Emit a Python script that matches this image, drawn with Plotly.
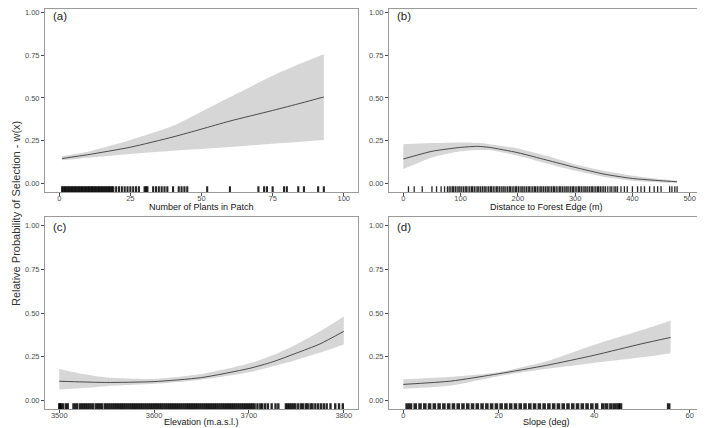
import plotly.graph_objects as go

# ---------------- data ----------------
# (a) Number of plants in patch
xa = [1, 10, 25, 40, 50, 60, 75, 85, 93]
mean_a = [0.146, 0.168, 0.212, 0.272, 0.318, 0.365, 0.427, 0.470, 0.506]
hi_a = [0.160, 0.185, 0.254, 0.337, 0.420, 0.505, 0.630, 0.703, 0.756]
lo_a = [0.135, 0.150, 0.173, 0.192, 0.202, 0.213, 0.232, 0.244, 0.254]
rug_a = [1, 1.5, 2, 2.5, 3, 3.5, 4, 4.5, 5, 5.5, 6, 6.5, 7, 7.5, 8, 8.5, 9, 9.5,
         10, 10.5, 11, 11.5, 12, 12.5, 13, 13.5, 14, 14.5, 15, 15.5, 16, 16.5,
         17, 17.5, 18, 18.5, 19, 20, 21, 22, 23, 24, 25, 26, 27, 28, 30, 30.5,
         31, 33, 34, 35, 36, 37, 38, 40, 42, 43, 44, 45, 52, 60, 70, 72, 73, 75,
         79, 80, 84, 86, 91, 93]

# (b) Distance to forest edge
xb = [0, 50, 100, 130, 150, 200, 250, 300, 350, 400, 450, 478]
mean_b = [0.143, 0.188, 0.211, 0.217, 0.211, 0.180, 0.137, 0.094, 0.055, 0.029, 0.016, 0.010]
hi_b = [0.230, 0.236, 0.240, 0.238, 0.230, 0.205, 0.162, 0.113, 0.074, 0.045, 0.025, 0.016]
lo_b = [0.084, 0.152, 0.188, 0.196, 0.195, 0.162, 0.117, 0.074, 0.039, 0.016, 0.006, 0.004]
rug_b = [9, 19, 33, 50, 58, 66, 72, 77, 80, 83, 86, 88, 91, 94, 97, 99, 102, 105,
         108, 110, 113, 116, 119, 121, 124, 127, 130, 132, 135, 138, 141, 143, 146,
         149, 152, 154, 157, 160, 163, 165, 168, 171, 174, 176, 179, 182, 185, 187,
         190, 193, 196, 198, 201, 204, 207, 209, 212, 215, 218, 220, 223, 226, 229,
         231, 234, 237, 240, 242, 245, 248, 251, 253, 256, 259, 262, 264, 267, 270,
         273, 275, 278, 281, 284, 286, 289, 292, 295, 297, 300, 303, 306, 308, 311,
         314, 317, 319, 322, 325, 328, 330, 333, 336, 339, 341, 344, 347, 350, 353,
         357, 361, 364, 368, 371, 374, 380, 386, 391, 400, 409, 415, 421, 430, 438,
         444, 450, 465, 469, 474, 478]

# (c) Elevation
xc = [3500, 3525, 3550, 3600, 3650, 3700, 3725, 3750, 3775, 3800]
mean_c = [0.109, 0.105, 0.102, 0.107, 0.130, 0.182, 0.220, 0.270, 0.323, 0.395]
hi_c = [0.179, 0.150, 0.130, 0.122, 0.150, 0.210, 0.258, 0.320, 0.395, 0.480]
lo_c = [0.062, 0.071, 0.081, 0.094, 0.118, 0.160, 0.195, 0.231, 0.273, 0.320]
rug_c = [3500, 3501, 3502, 3504, 3507, 3509, 3515, 3517, 3519, 3522, 3524, 3526,
         3528, 3530, 3532, 3534, 3536, 3539, 3541, 3543, 3545, 3548, 3550, 3552,
         3554, 3556, 3558, 3560, 3562, 3564, 3566, 3568, 3570, 3572, 3574, 3576,
         3578, 3580, 3582, 3584, 3586, 3588, 3590, 3592, 3594, 3596, 3598, 3600,
         3602, 3604, 3606, 3608, 3610, 3612, 3614, 3616, 3618, 3620, 3622, 3624,
         3626, 3628, 3630, 3632, 3634, 3636, 3638, 3640, 3642, 3644, 3646, 3648,
         3650, 3652, 3654, 3656, 3658, 3660, 3662, 3664, 3666, 3668, 3670, 3672,
         3674, 3676, 3678, 3680, 3682, 3684, 3686, 3688, 3690, 3692, 3694, 3696,
         3698, 3700, 3702, 3704, 3706, 3709, 3712, 3714, 3717, 3720, 3724, 3728,
         3731, 3739, 3741, 3743, 3745, 3747, 3749, 3752, 3755, 3757, 3760, 3762,
         3765, 3767, 3770, 3773, 3776, 3779, 3782, 3786, 3791, 3795, 3799]

# (d) Slope
xd = [0, 10, 20, 30, 40, 50, 56]
mean_d = [0.091, 0.110, 0.152, 0.200, 0.258, 0.324, 0.360]
hi_d = [0.120, 0.135, 0.161, 0.223, 0.318, 0.403, 0.456]
lo_d = [0.066, 0.085, 0.138, 0.180, 0.214, 0.246, 0.270]
rug_d = [0.8, 1.5, 2.5, 3.5, 4.5, 5.5, 6.5, 7.5, 8.5, 9.5, 10.5, 11.5, 12.5, 13.5,
         14.5, 15.5, 16.5, 17.5, 18.5, 19.5, 20.5, 21.5, 22.5, 23.5, 24.5, 25.5,
         26.5, 27.5, 28.5, 29.5, 30.5, 31.5, 32.5, 33.5, 34.5, 35.5, 36.5, 37.5,
         38.5, 39.5, 40.5, 41.8, 42.6, 43.5, 44.3, 45.0, 45.5, 55.6]

y_ticks = [0, 0.25, 0.5, 0.75, 1.0]
y_ticktext = ["0.00", "0.25", "0.50", "0.75", "1.00"]

# The page places the figure 8 px from the top-left corner (body margin),
# so the figure is 697 x 420 and every position below is relative to it.
W, H = 697, 420
TOP_DOM = [1 - 184 / H, 1 - 0.5 / H]
BOT_DOM = [1 - 401 / H, 1 - 209 / H]
LEFT_DOM = [37 / W, 350 / W]
RIGHT_DOM = [381 / W, 696 / W]

panels = [
    dict(x=xa, m=mean_a, hi=hi_a, lo=lo_a, rug=rug_a, rw=2.1, xr=[-5, 105],
         xt=[0, 25, 50, 75, 100], title="Number of Plants in Patch", label="(a)",
         dx=LEFT_DOM, dy=TOP_DOM, yr=[-0.05, 1.0234], ty=1 - 198.5 / H),
    dict(x=xb, m=mean_b, hi=hi_b, lo=lo_b, rug=rug_b, rw=1.3, xr=[-25, 525],
         xt=[0, 100, 200, 300, 400, 500], title="Distance to Forest Edge (m)", label="(b)",
         dx=RIGHT_DOM, dy=TOP_DOM, yr=[-0.05, 1.0234], ty=1 - 198.5 / H),
    dict(x=xc, m=mean_c, hi=hi_c, lo=lo_c, rug=rug_c, rw=2.4, xr=[3485, 3815],
         xt=[3500, 3600, 3700, 3800], title="Elevation (m.a.s.l.)", label="(c)",
         dx=LEFT_DOM, dy=BOT_DOM, yr=[-0.05, 1.05], ty=1 - 414 / H),
    dict(x=xd, m=mean_d, hi=hi_d, lo=lo_d, rug=rug_d, rw=3.6, xr=[-3, 63],
         xt=[0, 20, 40, 60], title="Slope (deg)", label="(d)",
         dx=RIGHT_DOM, dy=BOT_DOM, yr=[-0.05, 1.05], ty=1 - 414 / H),
]

FONT = "Arial, Liberation Sans, sans-serif"
BORDER = "#9a9a9a"
TICKCOL = "#4d4d4d"

fig = go.Figure()
layout = dict(
    width=W, height=H,
    margin=dict(l=0, r=0, t=0, b=0, autoexpand=False),
    paper_bgcolor="white", plot_bgcolor="white",
    showlegend=False,
    font=dict(family=FONT),
)
annotations = []

for i, p in enumerate(panels, start=1):
    sfx = "" if i == 1 else str(i)
    xa_name, ya_name = "x" + sfx, "y" + sfx
    # ribbon
    fig.add_trace(go.Scatter(x=p["x"], y=p["lo"], mode="lines",
                             line=dict(width=0, shape="spline", smoothing=0.6),
                             hoverinfo="skip", xaxis=xa_name, yaxis=ya_name))
    fig.add_trace(go.Scatter(x=p["x"], y=p["hi"], mode="lines", fill="tonexty",
                             fillcolor="#d6d6d6",
                             line=dict(width=0, shape="spline", smoothing=0.6),
                             hoverinfo="skip", xaxis=xa_name, yaxis=ya_name))
    # mean
    fig.add_trace(go.Scatter(x=p["x"], y=p["m"], mode="lines",
                             line=dict(width=0.9, color="#3a3a3a", shape="spline", smoothing=0.6),
                             xaxis=xa_name, yaxis=ya_name))
    # rug (3 % of the panel height, at the bottom)
    rx, ry = [], []
    for v in p["rug"]:
        rx += [v, v, None]
        ry += [-0.05, -0.017, None]
    fig.add_trace(go.Scatter(x=rx, y=ry, mode="lines",
                             line=dict(width=p["rw"], color="rgba(0,0,0,0.85)"),
                             hoverinfo="skip", xaxis=xa_name, yaxis=ya_name))

    axcommon = dict(showline=True, mirror=True, linecolor=BORDER, linewidth=1,
                    showgrid=False, zeroline=False, ticks="outside", ticklen=3,
                    tickwidth=1, tickcolor=TICKCOL, automargin=False,
                    ticklabeloverflow="allow",
                    tickfont=dict(size=7.5, color=TICKCOL, family=FONT))
    layout["xaxis" + sfx] = dict(axcommon, domain=p["dx"], range=p["xr"],
                                 tickvals=p["xt"], anchor=ya_name, ticklabelstandoff=-4)
    layout["yaxis" + sfx] = dict(axcommon, domain=p["dy"], range=p["yr"],
                                 tickvals=y_ticks, ticktext=y_ticktext, anchor=xa_name)
    annotations.append(dict(text=p["label"], xref=xa_name + " domain", yref="paper",
                            x=0.018, y=p["dy"][1] - 2 / H if i > 2 else 1.0,
                            xanchor="left", yanchor="top", showarrow=False,
                            font=dict(size=11.5, color="#222222", family=FONT)))
    annotations.append(dict(text=p["title"], xref=xa_name + " domain", yref="paper",
                            x=0.5, y=p["ty"], xanchor="center", yanchor="middle", showarrow=False,
                            font=dict(size=9, color="#111111", family=FONT)))

annotations.append(dict(text="Relative Probability of Selection - w(x)", xref="paper", yref="paper",
                        x=0, y=1 - 206 / H, xanchor="left", yanchor="middle", textangle=-90,
                        showarrow=False, font=dict(size=11, color="#333333", family=FONT)))
layout["annotations"] = annotations
fig.update_layout(**layout)
fig.write_html("out.html")
